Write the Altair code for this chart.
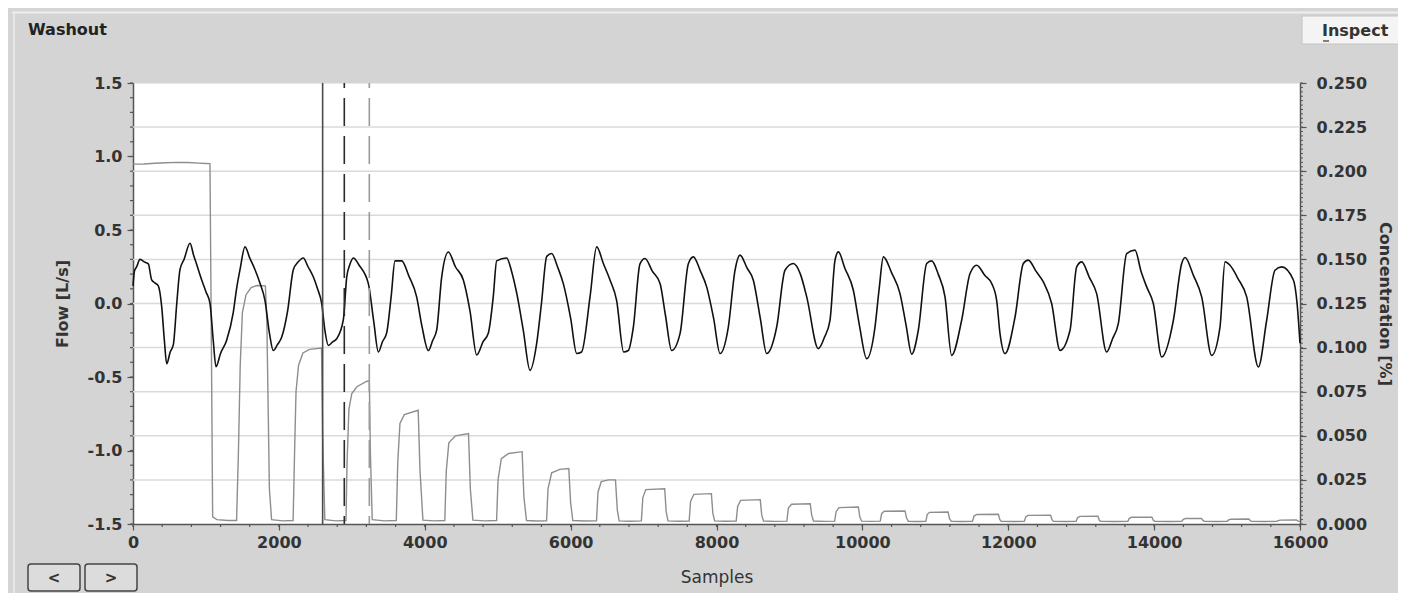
import altair as alt
import pandas as pd

FONT = "DejaVu Sans"
W, H = 1167, 441

# ---- data ----
flow_pts = [
    (0, 0.12), (20, 0.22), (50, 0.25), (96, 0.30), (165, 0.28), (210, 0.27), (256, 0.16), (300, 0.14),
    (347, 0.12), (393, -0.02), (430, -0.25), (462, -0.41), (510, -0.33), (553, -0.28), (600, 0.0),
    (644, 0.23), (700, 0.30), (782, 0.41), (830, 0.33), (870, 0.27), (942, 0.16), (1000, 0.08),
    (1056, 0.0), (1100, -0.25), (1138, -0.43), (1200, -0.34), (1284, -0.25), (1375, -0.06), (1420, 0.10),
    (1467, 0.23), (1536, 0.385), (1600, 0.31), (1673, 0.23), (1740, 0.14), (1810, 0.02), (1870, -0.20),
    (1924, -0.32), (1980, -0.28), (2038, -0.23), (2120, -0.05), (2198, 0.23), (2260, 0.28), (2335, 0.31),
    (2400, 0.25), (2473, 0.18), (2530, 0.10), (2587, 0.0), (2630, -0.18), (2678, -0.285), (2740, -0.26),
    (2793, -0.24), (2884, -0.11), (2930, 0.18), (2970, 0.26), (3021, 0.31), (3100, 0.26), (3227, 0.135),
    (3300, -0.12), (3364, -0.33), (3420, -0.26), (3478, -0.20), (3540, 0.05), (3592, 0.29), (3684, 0.29),
    (3780, 0.19), (3889, 0.045), (3960, -0.15), (4049, -0.32), (4110, -0.25), (4164, -0.18), (4232, 0.18),
    (4324, 0.35), (4420, 0.25), (4529, 0.16), (4620, -0.05), (4712, -0.35), (4800, -0.26), (4872, -0.20),
    (4940, 0.05), (4986, 0.29), (5123, 0.31), (5190, 0.22), (5261, 0.07), (5350, -0.18), (5443, -0.455),
    (5535, -0.27), (5600, 0.0), (5672, 0.32), (5740, 0.34), (5820, 0.25), (5900, 0.135), (6000, -0.10),
    (6083, -0.34), (6150, -0.33), (6266, 0.045), (6357, 0.385), (6450, 0.27), (6540, 0.16), (6631, 0.02),
    (6727, -0.33), (6790, -0.32), (6860, -0.16), (6951, 0.27), (7020, 0.306), (7120, 0.22), (7226, 0.136),
    (7300, -0.08), (7385, -0.32), (7500, -0.205), (7614, 0.27), (7683, 0.317), (7780, 0.22), (7865, 0.113),
    (7960, -0.10), (8048, -0.34), (8162, -0.16), (8254, 0.226), (8322, 0.329), (8420, 0.24), (8505, 0.158),
    (8600, -0.10), (8688, -0.34), (8825, -0.16), (8939, 0.226), (9054, 0.272), (9150, 0.20), (9237, 0.045),
    (9396, -0.307), (9480, -0.23), (9556, -0.114), (9625, 0.295), (9671, 0.351), (9760, 0.24), (9876, 0.09),
    (9960, -0.15), (10059, -0.375), (10173, -0.16), (10230, 0.10), (10288, 0.317), (10400, 0.21),
    (10516, 0.067), (10600, -0.15), (10676, -0.345), (10767, -0.182), (10882, 0.272), (10950, 0.29),
    (11040, 0.20), (11133, 0.045), (11224, -0.353), (11361, -0.114), (11476, 0.204), (11567, 0.26),
    (11680, 0.19), (11773, 0.136), (11841, 0.022), (11887, -0.205), (11956, -0.341), (12093, -0.092),
    (12207, 0.272), (12275, 0.295), (12380, 0.22), (12481, 0.147), (12595, 0.0), (12710, -0.319),
    (12847, -0.182), (12938, 0.249), (13007, 0.283), (13110, 0.18), (13212, 0.067), (13349, -0.33),
    (13430, -0.24), (13509, -0.137), (13624, 0.34), (13738, 0.363), (13820, 0.22), (13898, 0.113),
    (13989, 0.0), (14104, -0.364), (14264, -0.114), (14378, 0.272), (14424, 0.313), (14540, 0.19),
    (14652, 0.045), (14789, -0.353), (14903, -0.16), (14972, 0.283), (15040, 0.26), (15150, 0.17),
    (15269, 0.045), (15429, -0.432), (15543, -0.114), (15657, 0.226), (15749, 0.249), (15909, 0.16),
    (15960, 0.0), (16000, -0.27),
]

conc_pts = [
    (0, 0.2040), (150, 0.2041), (300, 0.2045), (450, 0.2048), (600, 0.2050), (750, 0.2049), (900, 0.2046),
    (1000, 0.2044), (1055, 0.2043), (1075, 0.1000), (1092, 0.0040), (1150, 0.0025), (1300, 0.0020), (1420, 0.0020),
    (1445, 0.040), (1470, 0.090), (1500, 0.120), (1550, 0.130), (1620, 0.1340), (1700, 0.1352), (1815, 0.1350),
    (1835, 0.115), (1870, 0.020), (1900, 0.0025), (2050, 0.0018), (2195, 0.0020),
    (2215, 0.040), (2235, 0.075), (2270, 0.090), (2330, 0.097), (2420, 0.0990), (2585, 0.0998), (2600, 0.050),
    (2630, 0.0025), (2780, 0.0018), (2920, 0.0020),
    (2935, 0.035), (2960, 0.065), (3000, 0.074), (3070, 0.0778), (3200, 0.0808), (3240, 0.0812), (3255, 0.040),
    (3280, 0.0025), (3450, 0.0018), (3610, 0.0020),
    (3630, 0.035), (3660, 0.057), (3720, 0.062), (3910, 0.0645), (3935, 0.030), (3975, 0.0022), (4130, 0.0018), (4275, 0.0020),
    (4295, 0.030), (4330, 0.046), (4420, 0.050), (4600, 0.0513), (4625, 0.020), (4660, 0.0022), (4820, 0.0018), (4985, 0.0020),
    (5005, 0.025), (5050, 0.037), (5150, 0.040), (5335, 0.0410), (5360, 0.015), (5395, 0.0020), (5530, 0.0017), (5670, 0.0018),
    (5690, 0.020), (5740, 0.029), (5850, 0.031), (5975, 0.0315), (6000, 0.012), (6030, 0.0020), (6190, 0.0017), (6355, 0.0018),
    (6375, 0.018), (6420, 0.0240), (6520, 0.0250), (6615, 0.0250), (6640, 0.008), (6665, 0.0018), (6820, 0.0016), (6970, 0.0018),
    (6990, 0.015), (7030, 0.0195), (7290, 0.0200), (7310, 0.007), (7335, 0.0018), (7480, 0.0016), (7625, 0.0017),
    (7645, 0.013), (7690, 0.0168), (7930, 0.0172), (7950, 0.006), (7975, 0.0018), (8120, 0.0016), (8270, 0.0017),
    (8290, 0.010), (8330, 0.0134), (8600, 0.0138), (8620, 0.005), (8645, 0.0017), (8800, 0.0015), (8965, 0.0016),
    (8985, 0.009), (9030, 0.0112), (9285, 0.0115), (9305, 0.005), (9330, 0.0017), (9480, 0.0015), (9620, 0.0016),
    (9640, 0.007), (9680, 0.0093), (9945, 0.0096), (9965, 0.004), (9990, 0.0016), (10120, 0.0015), (10245, 0.0016),
    (10265, 0.006), (10300, 0.0072), (10585, 0.0074), (10605, 0.0035), (10630, 0.0015), (10750, 0.0014), (10870, 0.0015),
    (10890, 0.0055), (10920, 0.0066), (11175, 0.0068), (11195, 0.0030), (11220, 0.0015), (11360, 0.0014), (11510, 0.0015),
    (11530, 0.0045), (11570, 0.0054), (11865, 0.0055), (11885, 0.0025), (11905, 0.0015), (12060, 0.0014), (12220, 0.0015),
    (12240, 0.0040), (12270, 0.0049), (12580, 0.0050), (12600, 0.0025), (12620, 0.0015), (12780, 0.0014), (12930, 0.0015),
    (12950, 0.0035), (12980, 0.0043), (13230, 0.0044), (13250, 0.0020), (13270, 0.0015), (13450, 0.0014), (13640, 0.0015),
    (13660, 0.0032), (13690, 0.0038), (13970, 0.0039), (13990, 0.0020), (14010, 0.0015), (14200, 0.0014), (14380, 0.0015),
    (14400, 0.0027), (14430, 0.0031), (14650, 0.0032), (14670, 0.0020), (14690, 0.0015), (14850, 0.0014), (15000, 0.0015),
    (15020, 0.0023), (15050, 0.0027), (15300, 0.0028), (15320, 0.0018), (15340, 0.0015), (15510, 0.0014), (15680, 0.0015),
    (15700, 0.0019), (15730, 0.0022), (15950, 0.0023), (15975, 0.0016), (16000, 0.0015),
]

x_ticks = [0, 2000, 4000, 6000, 8000, 10000, 12000, 14000, 16000]
flow_ticks = [-1.5, -1.0, -0.5, 0.0, 0.5, 1.0, 1.5]
conc_ticks = [0.0, 0.025, 0.05, 0.075, 0.1, 0.125, 0.15, 0.175, 0.2, 0.225, 0.25]
grid_vals = [0.025, 0.05, 0.075, 0.1, 0.125, 0.15, 0.175, 0.2, 0.225]
cursor_solid = [2600]
cursor_dark_dash = [2897]
cursor_light_dash = [3240]

x_minor = [i * 400 for i in range(41)]
flow_minor = [round(-1.5 + i * 0.1, 2) for i in range(31)]
conc_minor = [round(i * 0.0025, 4) for i in range(101)]

flow_df = pd.DataFrame(flow_pts, columns=["s", "f"])
conc_df = pd.DataFrame(conc_pts, columns=["s", "c"])
one = pd.DataFrame({"k": [0]})

xs = alt.Scale(domain=[0, 16000], nice=False, zero=False)
fs = alt.Scale(domain=[-1.5, 1.5], nice=False, zero=False)
cs = alt.Scale(domain=[0, 0.25], nice=False, zero=False)

LAB = dict(labelFont=FONT, labelFontSize=16, labelFontWeight="bold", labelColor="#333333",
           domainColor="#555555", domainWidth=1.5, tickColor="#555555", tickWidth=1.2, tickSize=6)

x_axis = alt.Axis(values=x_ticks, format="d", grid=False, labelPadding=4, labelFlush=False,
                  title="Samples", titleFont=FONT, titleFontSize=17, titleFontWeight="normal",
                  titleColor="#333333", titleX=583.5, titleY=53, titleBaseline="middle", titleAlign="center",
                  **LAB)
f_axis = alt.Axis(values=flow_ticks, grid=False, labelPadding=5, orient="left",
                  labelExpr="datum.value < 0 ? '-' + format(-datum.value, '.1f') : format(datum.value, '.1f')",
                  title="Flow [L/s]", titleFont=FONT, titleFontSize=16, titleFontWeight="bold",
                  titleColor="#333333", titleAngle=270, titleX=-71, titleY=220.5,
                  titleAlign="center", titleBaseline="middle", **LAB)
c_axis = alt.Axis(values=conc_ticks, format=".3f", orient="right", grid=False, labelPadding=10,
                  title="Concentration [%]", titleFont=FONT, titleFontSize=16, titleFontWeight="bold",
                  titleColor="#333333", titleAngle=90, titleX=84, titleY=220.5,
                  titleAlign="center", titleBaseline="middle", **LAB)

# ---- concentration (right axis) ----
grid = alt.Chart(pd.DataFrame({"g": grid_vals})).mark_rule(color="#dadada", strokeWidth=1.5).encode(
    y=alt.Y("g:Q", scale=cs, axis=None), x=alt.value(0), x2=alt.value(W))
conc_line = alt.Chart(conc_df).mark_line(color="#8e8e8e", strokeWidth=1.4).encode(
    x=alt.X("s:Q", scale=xs, axis=x_axis), y=alt.Y("c:Q", scale=cs, axis=c_axis))
conc_minor_r = alt.Chart(pd.DataFrame({"t": conc_minor})).mark_rule(color="#555555", strokeWidth=1).encode(
    y=alt.Y("t:Q", scale=cs, axis=None), x=alt.value(W), x2=alt.value(W + 3))

# ---- flow (left axis) ----
flow_line = alt.Chart(flow_df).mark_line(color="#111111", strokeWidth=1.6, interpolate="monotone").encode(
    x=alt.X("s:Q", scale=xs, axis=x_axis), y=alt.Y("f:Q", scale=fs, axis=f_axis))
x_minor_r = alt.Chart(pd.DataFrame({"t": x_minor})).mark_rule(color="#555555", strokeWidth=1.2).encode(
    x=alt.X("t:Q", scale=xs, axis=x_axis), y=alt.value(H), y2=alt.value(H + 3))
f_minor_r = alt.Chart(pd.DataFrame({"t": flow_minor})).mark_rule(color="#555555", strokeWidth=1.2).encode(
    y=alt.Y("t:Q", scale=fs, axis=None), x=alt.value(-3), x2=alt.value(0))
cur1 = alt.Chart(pd.DataFrame({"v": cursor_solid})).mark_rule(color="#4a4a4a", strokeWidth=1.6).encode(
    x=alt.X("v:Q", scale=xs, axis=x_axis), y=alt.value(0), y2=alt.value(H))
cur2 = alt.Chart(pd.DataFrame({"v": cursor_dark_dash})).mark_rule(
    color="#2a2a2a", strokeWidth=1.6, strokeDash=[28, 10], strokeDashOffset=23).encode(
    x=alt.X("v:Q", scale=xs, axis=x_axis), y=alt.value(0), y2=alt.value(H))
cur3 = alt.Chart(pd.DataFrame({"v": cursor_light_dash})).mark_rule(
    color="#9a9a9a", strokeWidth=1.6, strokeDash=[28, 10], strokeDashOffset=23).encode(
    x=alt.X("v:Q", scale=xs, axis=x_axis), y=alt.value(0), y2=alt.value(H))

# ---- panel decorations ----
bevel_top = alt.Chart(one).mark_rule(color="#eeeeee", strokeWidth=2).encode(
    x=alt.value(-121), x2=alt.value(1275), y=alt.value(-70.5))
bevel_left = alt.Chart(one).mark_rule(color="#e6e6e6", strokeWidth=2).encode(
    x=alt.value(-119), y=alt.value(-70), y2=alt.value(520))
title_txt = alt.Chart(one).mark_text(text="Washout", font=FONT, fontSize=16, fontWeight="bold",
                                     color="#222222", align="left", baseline="middle").encode(
    x=alt.value(-105), y=alt.value(-53))
insp_rect = alt.Chart(one).mark_rect(fill="#f4f4f4", stroke="#c4c4c4", strokeWidth=1).encode(
    x=alt.value(1169), x2=alt.value(1290), y=alt.value(-67), y2=alt.value(-39))
insp_txt = alt.Chart(one).mark_text(text="Inspect", font=FONT, fontSize=16, fontWeight="bold",
                                    color="#333333", align="left", baseline="middle").encode(
    x=alt.value(1189), y=alt.value(-52))
insp_ul = alt.Chart(one).mark_rule(color="#333333", strokeWidth=1.2).encode(
    x=alt.value(1190), x2=alt.value(1196), y=alt.value(-42))
btn_left = alt.Chart(one).mark_rect(fill="#dcdcdc", stroke="#444444", strokeWidth=1.5, cornerRadius=3).encode(
    x=alt.value(-105), x2=alt.value(-53), y=alt.value(481), y2=alt.value(508))
btn_right = alt.Chart(one).mark_rect(fill="#dcdcdc", stroke="#444444", strokeWidth=1.5, cornerRadius=3).encode(
    x=alt.value(-48), x2=alt.value(4), y=alt.value(481), y2=alt.value(508))
btn_lt = alt.Chart(one).mark_text(text="<", font=FONT, fontSize=15, fontWeight="bold", color="#333333",
                                  align="center", baseline="middle").encode(x=alt.value(-79), y=alt.value(495))
btn_gt = alt.Chart(one).mark_text(text=">", font=FONT, fontSize=15, fontWeight="bold", color="#333333",
                                  align="center", baseline="middle").encode(x=alt.value(-22), y=alt.value(495))

chart = alt.layer(
    grid, conc_line, conc_minor_r,
    flow_line, x_minor_r, f_minor_r, cur1, cur2, cur3,
    bevel_top, bevel_left, title_txt, insp_rect, insp_txt, insp_ul,
    btn_left, btn_right, btn_lt, btn_gt,
).resolve_scale(y="independent").properties(
    width=W, height=H,
    padding={"left": 125, "top": 75, "right": 98, "bottom": 69},
    autosize=alt.AutoSizeParams(type="none"),
).configure(background="#d4d4d4", font=FONT).configure_view(fill="white", stroke="transparent")

chart.save("out.html", embed_options={"renderer": "svg", "actions": False})
